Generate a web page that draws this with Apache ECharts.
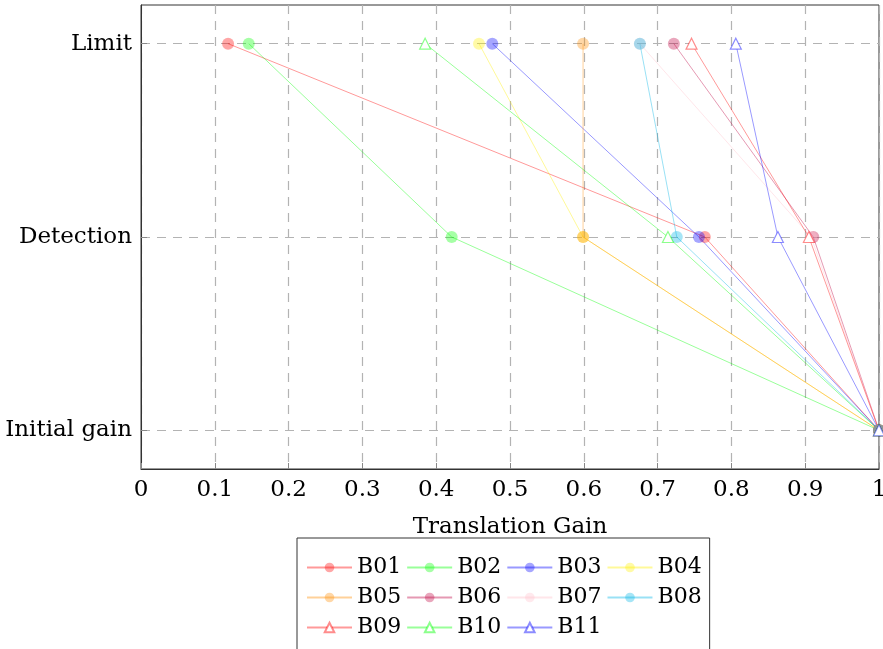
<!DOCTYPE html>
<html>
<head>
<meta charset="utf-8">
<script src="https://cdn.jsdelivr.net/npm/echarts@6/dist/echarts.min.js"></script>
<style>
  html, body { margin: 0; padding: 0; background: #fff; }
  #chart { width: 883px; height: 649px; }
</style>
</head>
<body>
<div id="chart"></div>
<script>
  // stages on the y axis (0 = Initial gain, 1 = Detection, 2 = Limit)
  const stages = ['Initial gain', 'Detection', 'Limit'];
  const names = ['B01', 'B02', 'B03', 'B04', 'B05', 'B06', 'B07', 'B08', 'B09', 'B10', 'B11'];
  const initialGain = [1, 1, 1, 1, 1, 1, 1, 1, 1, 1, 1];
  const detection = [0.764, 0.421, 0.756, 0.599, 0.599, 0.911, 0.908, 0.726, 0.905, 0.714, 0.863];
  const limit = [0.118, 0.146, 0.476, 0.458, 0.599, 0.722, 0.676, 0.676, 0.746, 0.385, 0.806];
  const xTicks = [0, 0.1, 0.2, 0.3, 0.4, 0.5, 0.6, 0.7, 0.8, 0.9, 1];

  const colors = [
    [255, 0, 0], [0, 255, 0], [0, 0, 255], [255, 240, 0],
    [255, 140, 0], [191, 0, 64], [255, 192, 203], [0, 180, 230],
    [255, 0, 0], [0, 255, 0], [0, 0, 255],
  ];
  const rgba = (c, a) => `rgba(${c[0]},${c[1]},${c[2]},${a})`;
  const font = 'DejaVu Serif';

  const chart = echarts.init(document.getElementById('chart'));

  const series = names.map((name, i) => {
    const hollow = i >= 8;
    return {
      name,
      type: 'line',
      data: [[initialGain[i], 0], [detection[i], 1], [limit[i], 2]],
      symbol: hollow ? 'triangle' : 'circle',
      symbolSize: hollow ? 11 : 12,
      lineStyle: { color: rgba(colors[i], 0.4), width: 1 },
      itemStyle: hollow
        ? { color: '#fff', borderColor: rgba(colors[i], 0.45), borderWidth: 1.2 }
        : { color: rgba(colors[i], 0.35), borderWidth: 0 },
      emphasis: { disabled: true },
      animation: false,
    };
  });

  const option = {
    backgroundColor: '#fff',
    textStyle: { fontFamily: font },
    grid: {
      left: 141, right: 4, top: 5, bottom: 180,
      outerBoundsMode: 'none',
      show: true, borderColor: '#333', borderWidth: 1,
    },
    xAxis: {
      type: 'value',
      min: 0, max: 1, interval: 0.1,
      name: 'Translation Gain',
      nameLocation: 'middle',
      nameGap: 47,
      nameTextStyle: { fontFamily: font, fontSize: 23, color: '#000' },
      axisLine: { show: true, onZero: false, lineStyle: { color: '#333' } },
      axisTick: { show: true, inside: true, length: 6, lineStyle: { color: '#888' } },
      axisLabel: {
        fontFamily: font, fontSize: 23, color: '#000', margin: 10,
        formatter: (v) => (xTicks.includes(+v.toFixed(1)) ? String(+v.toFixed(1)) : ''),
      },
      splitLine: { show: true, lineStyle: { color: '#b3b3b3', type: [9, 7], width: 1.2 } },
    },
    yAxis: {
      type: 'value',
      min: -0.2, max: 2.2,
      axisLine: { show: true, onZero: false, lineStyle: { color: '#333' } },
      axisTick: { show: true, inside: true, length: 6, customValues: [0, 1, 2], lineStyle: { color: '#888' } },
      axisLabel: {
        fontFamily: font, fontSize: 23, color: '#000', margin: 9,
        customValues: [0, 1, 2],
        formatter: (v) => stages[Math.round(v)] || '',
      },
      splitLine: { show: true, lineStyle: { color: '#b3b3b3', type: [9, 7], width: 1.2 } },
    },
    legend: {
      data: names,
      left: 297, top: 538,
      width: 420,
      orient: 'horizontal',
      padding: [17, 8, 17, 9],
      itemGap: 5,
      itemWidth: 45,
      itemHeight: 12,
      borderColor: '#333',
      borderWidth: 1,
      textStyle: { fontFamily: font, fontSize: 22, color: '#000', lineHeight: 25 },
    },
    series,
  };

  chart.setOption(option);
</script>
</body>
</html>
